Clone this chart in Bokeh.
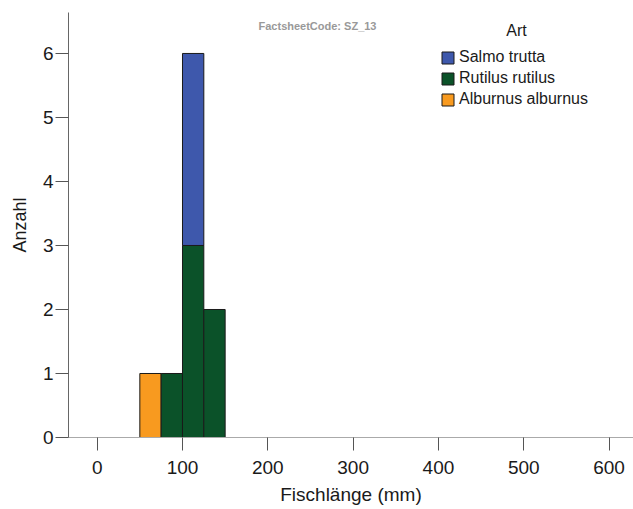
import numpy as np
from bokeh.plotting import figure
from bokeh.models import (ColumnDataSource, Legend, LegendItem, Label, FixedTicker, Range1d)
from bokeh.embed import file_html
from bokeh.resources import INLINE

# ---- data ----
bin_left = [50, 75, 100, 125]
bin_right = [75, 100, 125, 150]
species = ["Salmo trutta", "Rutilus rutilus", "Alburnus alburnus"]
alburnus = [1, 0, 0, 0]
rutilus = [0, 1, 3, 2]
salmo = [0, 0, 3, 0]
x_ticks = [0, 100, 200, 300, 400, 500, 600]
y_ticks = [0, 1, 2, 3, 4, 5, 6]

colors = {"Salmo trutta": "#3E58AC", "Rutilus rutilus": "#0B5229", "Alburnus alburnus": "#F89A1F"}

FONT = "Liberation Sans"

p = figure(width=633, height=509, output_backend="svg", toolbar_location=None,
           x_range=Range1d(-33.6, 628.6), y_range=Range1d(0, 6.64),
           min_border_left=68, min_border_right=0, min_border_top=12, min_border_bottom=72)
p.outline_line_color = None
p.xgrid.visible = False
p.ygrid.visible = False

# stacking order bottom->top: Alburnus, Rutilus, Salmo
stack_order = [("Alburnus alburnus", alburnus), ("Rutilus rutilus", rutilus), ("Salmo trutta", salmo)]
base = np.zeros(len(bin_left))
renderers = {}
for name, vals in stack_order:
    vals = np.array(vals, dtype=float)
    mask = vals > 0
    src = ColumnDataSource(dict(
        left=np.array(bin_left)[mask], right=np.array(bin_right)[mask],
        bottom=base[mask], top=(base + vals)[mask]))
    r = p.quad(left="left", right="right", bottom="bottom", top="top", source=src,
               fill_color=colors[name], line_color="#1a1a1a", line_width=1)
    renderers[name] = r
    base = base + vals

# axes
p.xaxis.ticker = FixedTicker(ticks=x_ticks)
p.yaxis.ticker = FixedTicker(ticks=y_ticks)
for ax in (p.xaxis[0], p.yaxis[0]):
    ax.minor_tick_line_color = None
    ax.major_tick_in = 0
    ax.major_tick_out = 13
    ax.major_tick_line_color = "#555555"
    ax.major_label_text_font = FONT
    ax.major_label_text_font_size = "19px"
    ax.major_label_text_color = "#1a1a1a"
    ax.axis_label_text_font = FONT
    ax.axis_label_text_font_style = "normal"
    ax.axis_label_text_color = "#1a1a1a"
p.xaxis.axis_line_color = "#aaaaaa"
p.yaxis.axis_line_color = "#666666"
p.xaxis.axis_label = "Fischlänge (mm)"
p.yaxis.axis_label = "Anzahl"
p.xaxis.axis_label_text_font_size = "19px"
p.yaxis.axis_label_text_font_size = "18px"
p.xaxis.major_label_standoff = 10
p.xaxis.axis_label_standoff = 7
p.yaxis.major_label_standoff = 2
p.yaxis.axis_label_standoff = 10

# legend
items = [LegendItem(label=n, renderers=[renderers[n]]) for n in species]
leg = Legend(items=items, location=(372, 329), border_line_color=None,
             background_fill_alpha=0, padding=0, margin=0, spacing=3,
             glyph_width=15, glyph_height=15, label_height=15, label_standoff=4,
             label_text_font=FONT, label_text_font_size="16px", label_text_color="#1a1a1a")
p.add_layout(leg, "center")

p.add_layout(Label(x=448, y=407, x_units="screen", y_units="screen", text="Art",
                   text_align="center", text_baseline="middle",
                   text_font=FONT, text_font_size="16px", text_color="#1a1a1a"))
p.add_layout(Label(x=249, y=412, x_units="screen", y_units="screen", text="FactsheetCode: SZ_13",
                   text_align="center", text_baseline="middle",
                   text_font=FONT, text_font_size="11px", text_font_style="bold", text_color="#999999"))

open("out.html", "w").write(file_html(p, INLINE))
